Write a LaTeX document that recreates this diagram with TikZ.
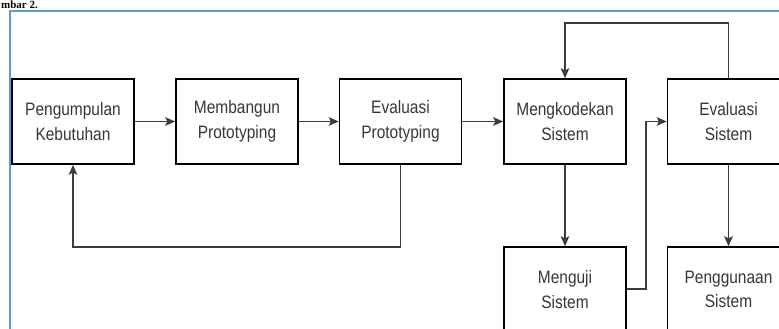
\documentclass[tikz,border=0pt]{standalone}
\usepackage{fontspec}
\setmainfont{Liberation Sans}
\newfontfamily\boxfont[FakeStretch=0.86]{Liberation Sans}
\newfontfamily\titlefont{Liberation Serif}
\usetikzlibrary{arrows.meta}
\definecolor{frameblue}{RGB}{91,155,213}
\definecolor{txtgray}{RGB}{55,55,55}
\definecolor{linegray}{RGB}{60,60,60}
\tikzset{
  stepbox/.style={draw=black, line width=1.5pt, fill=white, minimum width=122pt, minimum height=85pt,
    inner sep=0pt, align=center, text=txtgray, font=\boxfont\fontsize{18}{24.5}\selectfont},
  conn/.style={draw=linegray, line width=1.6pt, -{Stealth[length=10pt,width=8.5pt,inset=2pt]}},
}
\begin{document}
\begin{tikzpicture}[x=1pt,y=-1pt]
\useasboundingbox (0,0) rectangle (779,329);
\clip (0,0) rectangle (779,329);
\fill[white] (0,0) rectangle (779,329);
% title fragment
\node[anchor=base west, inner sep=0pt, font=\titlefont\bfseries\fontsize{11}{13}\selectfont] (title) at (1,8.5) {mbar 2.};
% blue frame
\draw[frameblue, line width=2pt] (10,340) -- (10,11) -- (790,11);
% boxes
\node[stepbox] (a) at (73,121.5) {Pengumpulan\\Kebutuhan};
\node[stepbox] (b) at (237,121.5) {Membangun\\Prototyping};
\node[stepbox] (c) at (400.5,121.5) {Evaluasi\\Prototyping};
\node[stepbox] (d) at (565,121.5) {Mengkodekan\\Sistem};
\node[stepbox] (e) at (728.5,121.5) {Evaluasi\\Sistem};
\node[stepbox] (f) at (565,289.5) {Menguji\\Sistem};
\node[stepbox] (g) at (728.5,289.5) {Penggunaan\\Sistem};
% connectors
\draw[conn] (a) -- (b);
\draw[conn] (b) -- (c);
\draw[conn] (c) -- (d);
\draw[conn] (c.south) -- (400.5,247) -| (a.south);
\draw[conn] (d) -- (f);
\draw[conn] (e.north) -- (728.5,23) -| (d.north);
\coordinate (turn) at (646,289);
\draw[conn] (f.east |- turn) -- (turn) |- (e.west);
\draw[conn] (e) -- (g);
\end{tikzpicture}
\end{document}
